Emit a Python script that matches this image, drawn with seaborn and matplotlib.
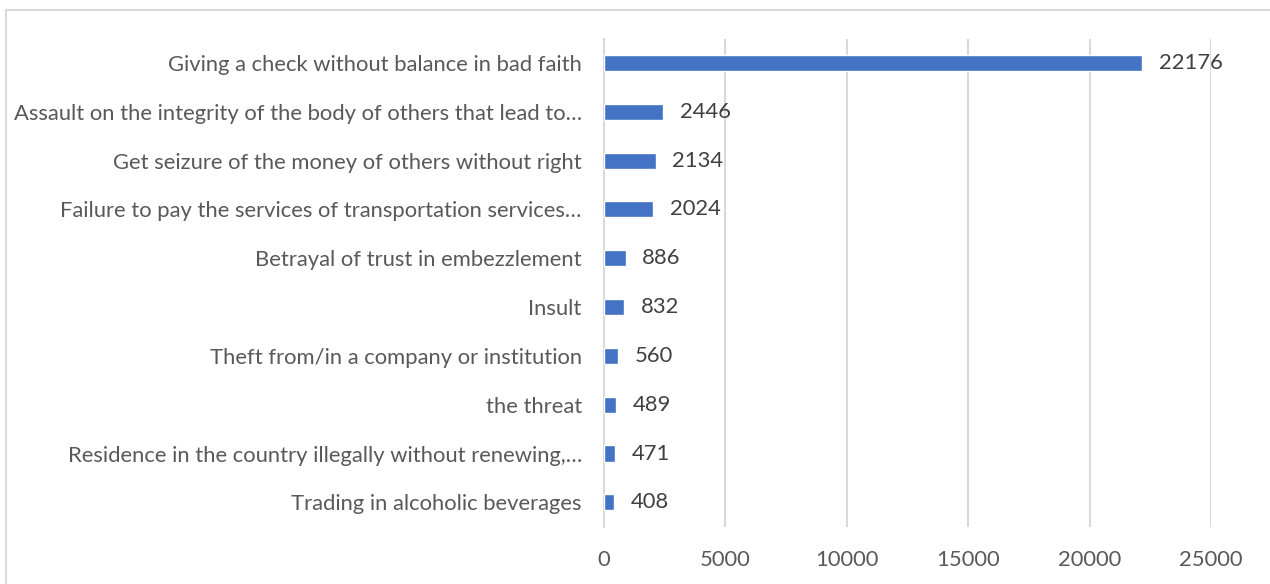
import matplotlib
matplotlib.use("Agg")
import matplotlib.pyplot as plt
import seaborn as sns
import pandas as pd
from matplotlib.patches import Rectangle

offences = [
    "Giving a check without balance in bad faith",
    "Assault on the integrity of the body of others that lead to…",
    "Get seizure of the money of others without right",
    "Failure to pay the services of transportation services…",
    "Betrayal of trust in embezzlement",
    "Insult",
    "Theft from/in a company or institution",
    "the threat",
    "Residence in the country illegally without renewing,…",
    "Trading in alcoholic beverages",
]
cases = [22176, 2446, 2134, 2024, 886, 832, 560, 489, 471, 408]
x_ticks = [0, 5000, 10000, 15000, 20000, 25000]

df = pd.DataFrame({"offence": offences, "cases": cases})

sns.set_theme(style="white")
plt.rcParams["font.family"] = ["Lato", "DejaVu Sans"]
text_color = "#595959"
value_color = "#404040"
grid_color = "#d9d9d9"

fig = plt.figure(figsize=(12.7, 5.84), dpi=100)
ax = fig.add_axes([0.4756, 0.098, 0.4780, 0.836])

sns.barplot(data=df, x="cases", y="offence", orient="h", color="#4472C4",
            width=0.33, saturation=1, ax=ax, zorder=3)

ax.set_xlim(0, 25000)
ax.set_xticks(x_ticks)
ax.set_xticklabels([str(t) for t in x_ticks])
ax.set_xlabel("")
ax.set_ylabel("")
ax.grid(axis="x", color=grid_color, linewidth=1.5, zorder=0)
for side in ["top", "right", "bottom"]:
    ax.spines[side].set_visible(False)
ax.spines["left"].set_color(grid_color)
ax.spines["left"].set_linewidth(1.5)
ax.tick_params(axis="both", length=0, labelsize=15.8, labelcolor=text_color)
ax.tick_params(axis="y", pad=16)
ax.tick_params(axis="x", pad=17)

for container in ax.containers:
    texts = ax.bar_label(container, labels=[str(v) for v in cases], padding=12,
                         fontsize=15.8, color=value_color)
    for t in texts:
        t.set_va("center")

fig.patches.append(Rectangle((0.0047, -0.01), 1.0, 0.993, transform=fig.transFigure,
                             fill=False, edgecolor=grid_color, linewidth=1.5))

fig.savefig("out.png", dpi=100, facecolor="white")
